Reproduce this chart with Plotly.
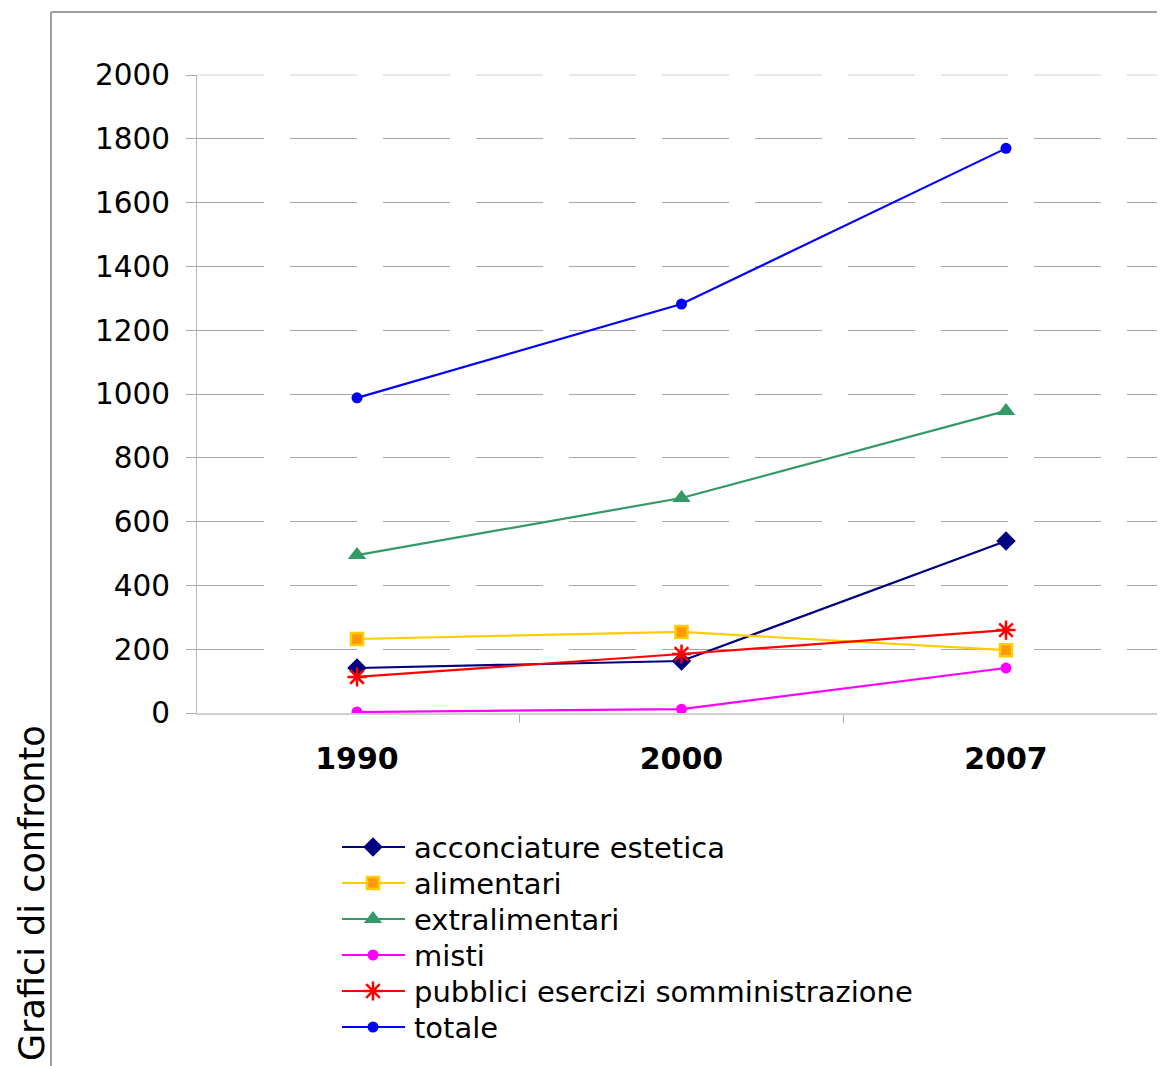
import plotly.graph_objects as go

years = ["1990", "2000", "2007"]
acconciature = [141, 163, 539]
alimentari = [232, 254, 197]
extralimentari = [495, 674, 947]
misti = [3, 12, 141]
pubblici = [113, 185, 260]
totale = [988, 1282, 1770]
y_ticks = [0, 200, 400, 600, 800, 1000, 1200, 1400, 1600, 1800, 2000]

series = [
    ("acconciature estetica", acconciature, "#000080", dict(symbol="diamond", size=15, color="#000080")),
    ("alimentari", alimentari, "#FFCC00", dict(symbol="square", size=12, color="#FF9900", line=dict(color="#FFCC00", width=2.5))),
    ("extralimentari", extralimentari, "#339966", dict(symbol="triangle-up", size=16, color="#339966")),
    ("misti", misti, "#FF00FF", dict(symbol="circle", size=11, color="#FF00FF")),
    ("pubblici esercizi somministrazione", pubblici, "#FF0000", dict(symbol="asterisk-open", size=16, color="#FF0000", line=dict(color="#FF0000", width=2.5))),
    ("totale", totale, "#0000FF", dict(symbol="circle", size=11, color="#0000FF")),
]

OFF = 8  # page body margin
W, H = 1165 - OFF, 1066 - OFF

def fx(p):  # screenshot px -> figure px
    return p - OFF

def fy(p):
    return p - OFF

def paper_x(p):
    return fx(p) / W

def paper_y(p):
    return 1 - fy(p) / H

PL, PR, PT, PB = 197, 1165, 75, 713  # plot area in screenshot px
CAT0, STEP = 357, 324.5  # first category centre and category spacing (px)

fig = go.Figure()
for name, vals, col, mk in series:
    fig.add_trace(go.Scatter(
        x=years, y=vals, name=name, mode="lines+markers",
        line=dict(color=col, width=2.2), marker=mk,
        xaxis="x", yaxis="y", showlegend=False,
    ))

# legend (drawn on a hidden pixel-space axis pair)
annotations = []
for i, (name, vals, col, mk) in enumerate(series):
    row = fy(847 + 36 * i)
    fig.add_trace(go.Scatter(
        x=[fx(342), fx(405)], y=[row, row], mode="lines",
        line=dict(color=col, width=2.2), name=name,
        xaxis="x2", yaxis="y2", showlegend=False, hoverinfo="skip",
    ))
    fig.add_trace(go.Scatter(
        x=[fx(373)], y=[row], mode="markers", marker=mk, name=name,
        xaxis="x2", yaxis="y2", showlegend=False, hoverinfo="skip",
    ))
    annotations.append(dict(
        text=name, xref="x2", yref="y2", x=fx(412), y=row + 1,
        xanchor="left", yanchor="middle", showarrow=False,
        font=dict(size=29, family="DejaVu Sans", color="black"),
    ))

annotations.append(dict(
    text="Grafici di confronto", xref="paper", yref="paper",
    x=paper_x(32), y=paper_y(893), xanchor="center", yanchor="middle",
    textangle=-90, showarrow=False,
    font=dict(size=35, family="DejaVu Sans", color="black"),
))

grid_top_y = paper_y(PT)
fig.update_layout(
    width=W, height=H,
    margin=dict(l=0, r=0, t=0, b=0, pad=0, autoexpand=False),
    paper_bgcolor="white", plot_bgcolor="rgba(0,0,0,0)",
    font=dict(family="DejaVu Sans", color="black"),
    showlegend=False,
    xaxis=dict(
        domain=[paper_x(PL), paper_x(PR)], anchor="y",
        type="category", range=[-(CAT0 - PL) / STEP, (PR - CAT0) / STEP],
        tickson="boundaries", ticks="outside", ticklen=8, tickcolor="#b0b0b0",
        showgrid=False, showline=True, linecolor="#d0d0d0", linewidth=2,
        tickfont=dict(size=30, family="DejaVu Sans", color="black", weight="bold"),
        ticklabelstandoff=18,
    ),
    yaxis=dict(
        domain=[paper_y(PB), paper_y(PT)], anchor="x",
        range=[0, 2000], tickvals=y_ticks,
        ticks="outside", ticklen=10, tickcolor="#a8a8a8",
        showgrid=True, gridcolor="#a8a8a8", gridwidth=1, griddash="67px,26px",
        showline=True, linecolor="#b8b8b8", linewidth=1, zeroline=False,
        tickfont=dict(size=29.5, family="DejaVu Sans", color="black"),
        ticklabelstandoff=10,
    ),
    xaxis2=dict(domain=[0, 1], anchor="y2", range=[0, W], visible=False, fixedrange=True),
    yaxis2=dict(domain=[0, 1], anchor="x2", range=[H, 0], visible=False, fixedrange=True),
    shapes=[
        dict(type="line", xref="paper", yref="paper", x0=paper_x(51), x1=paper_x(51),
             y0=paper_y(12), y1=paper_y(1080), line=dict(color="#a0a0a0", width=2)),
        dict(type="line", xref="paper", yref="paper", x0=paper_x(51), x1=paper_x(1180),
             y0=paper_y(12), y1=paper_y(12), line=dict(color="#a0a0a0", width=2)),
        # top gridline is lighter in the original
        dict(type="line", xref="paper", yref="paper", x0=paper_x(PL + 1), x1=paper_x(PR),
             y0=grid_top_y, y1=grid_top_y, layer="above", line=dict(color="white", width=2)),
        dict(type="line", xref="paper", yref="paper", x0=paper_x(PL), x1=paper_x(PR),
             y0=grid_top_y, y1=grid_top_y, layer="above",
             line=dict(color="#e0e0e0", width=1.5, dash="67px,26px")),
    ],
    annotations=annotations,
)

fig.write_html("out.html")
